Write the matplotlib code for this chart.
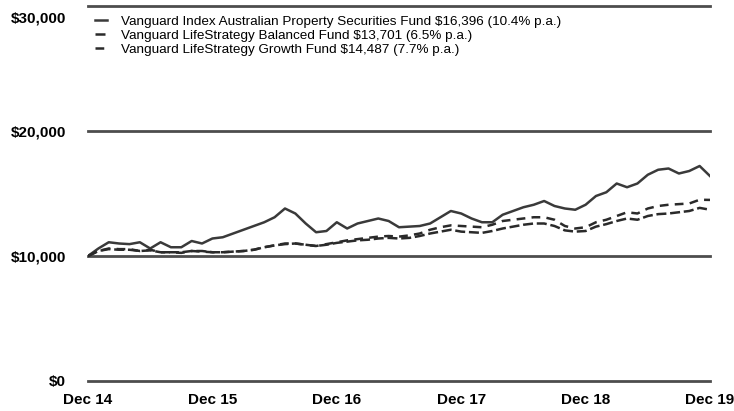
import matplotlib
matplotlib.use("Agg")
import matplotlib.pyplot as plt
import matplotlib.transforms as mtransforms
import numpy as np

plt.rcParams['font.family'] = ['Liberation Sans', 'DejaVu Sans']

# month index 0 = Dec 14 ... 60 = Dec 19, values in $
property_fund = [10000, 10600, 11100, 11000, 10950, 11100, 10600, 11100, 10700, 10700,
                 11200, 11000, 11400, 11500, 11800, 12100, 12400, 12700, 13100, 13800,
                 13400, 12600, 11900, 12000, 12700, 12200, 12600, 12800, 13000, 12800,
                 12300, 12350, 12400, 12600, 13100, 13600, 13400, 13000, 12700, 12700,
                 13300, 13600, 13900, 14100, 14400, 14000, 13800, 13700, 14100, 14800,
                 15100, 15800, 15500, 15800, 16500, 16900, 17000, 16600, 16800, 17200,
                 16396]
balanced_fund = [10000, 10400, 10550, 10500, 10500, 10400, 10450, 10300, 10300, 10300,
                 10400, 10400, 10300, 10300, 10350, 10400, 10500, 10700, 10850, 10950,
                 11000, 10900, 10800, 10900, 11050, 11150, 11250, 11300, 11400, 11450,
                 11400, 11450, 11600, 11800, 11950, 12100, 11950, 11900, 11850, 12000,
                 12200, 12350, 12500, 12600, 12600, 12400, 12050, 11950, 12000, 12350,
                 12550, 12800, 13000, 12900, 13200, 13350, 13400, 13500, 13600, 13850,
                 13701]
growth_fund = [10000, 10400, 10600, 10550, 10550, 10400, 10500, 10300, 10300, 10250,
               10400, 10350, 10300, 10300, 10350, 10400, 10500, 10700, 10850, 11000,
               11000, 10900, 10800, 10950, 11100, 11250, 11350, 11450, 11550, 11600,
               11550, 11650, 11800, 12100, 12300, 12450, 12400, 12350, 12300, 12500,
               12800, 12900, 13000, 13100, 13100, 12900, 12400, 12200, 12300, 12700,
               12900, 13200, 13500, 13400, 13800, 14000, 14100, 14150, 14200, 14500,
               14487]

legend_labels = ["Vanguard Index Australian Property Securities Fund $16,396 (10.4% p.a.)",
                 "Vanguard LifeStrategy Balanced Fund $13,701 (6.5% p.a.)",
                 "Vanguard LifeStrategy Growth Fund $14,487 (7.7% p.a.)"]
x_ticks = [0, 12, 24, 36, 48, 60]
x_labels = ["Dec 14", "Dec 15", "Dec 16", "Dec 17", "Dec 18", "Dec 19"]
y_ticks = [0, 10000, 20000, 30000]
y_labels = ["$0", "$10,000", "$20,000", "$30,000"]

months = np.arange(len(property_fund))

fig = plt.figure(figsize=(7.34, 4.11), dpi=100)
ax = fig.add_axes([0.1199, 0.073, 0.8474, 0.9124])

for y in y_ticks:
    ax.axhline(y, color="#4d4d4d", lw=2.0, zorder=1, clip_on=False)

l1, = ax.plot(months, property_fund, color="#3a3a3a", lw=1.8, zorder=3)
l2, = ax.plot(months, balanced_fund, color="#2a2a2a", lw=1.8, ls=(0, (4, 1.5)), zorder=3)
l3, = ax.plot(months, growth_fund, color="#2a2a2a", lw=1.8, ls=(0, (3.5, 2.5)), zorder=3)

ax.set_xlim(0, 60)
ax.set_ylim(0, 30000)
ax.set_xticks(x_ticks)
ax.set_xticklabels(x_labels, fontsize=11, fontweight="bold")
ax.set_yticks(y_ticks)
ax.set_yticklabels(y_labels, fontsize=11, fontweight="bold")
ax.tick_params(axis="x", length=0, pad=9)
ax.tick_params(axis="y", length=0, pad=16)
for s in ax.spines.values():
    s.set_visible(False)

# top label sits a little below its line in the original
top_label = ax.get_yticklabels()[-1]
top_label.set_transform(top_label.get_transform() +
                        mtransforms.ScaledTranslation(0, -8 / 72, fig.dpi_scale_trans))

fig.legend([l1, l2, l3], legend_labels, loc="upper left",
           bbox_to_anchor=(0.122, 0.975), frameon=False, fontsize=9.7,
           handlelength=0.9, handletextpad=1.0, labelspacing=0.12,
           borderaxespad=0)

fig.savefig("out.png", dpi=100)
